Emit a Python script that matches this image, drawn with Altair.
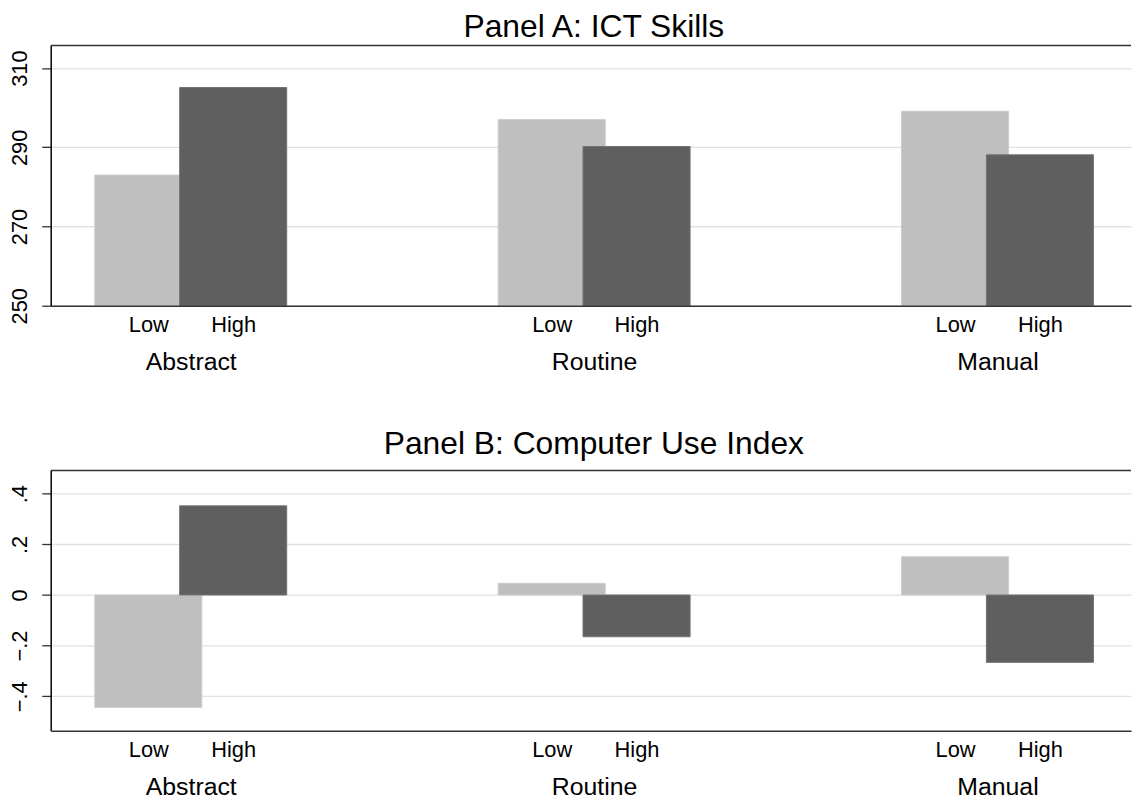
import altair as alt
import pandas as pd

# ---- data ----
categories = ["Abstract", "Routine", "Manual"]
groups = ["Low", "High"]
ict_low = [283.0, 297.0, 299.1]
ict_high = [305.1, 290.2, 288.1]
cui_low = [-0.444, 0.046, 0.151]
cui_high = [0.352, -0.165, -0.266]
ict_ticks = [250, 270, 290, 310]
cui_ticks = [-0.4, -0.2, 0.0, 0.2, 0.4]

# ---- styling / layout ----
colors = ["#bfbfbf", "#5f5f5f"]
edge_colors = ["#cccccc", "#727272"]
FONT = "Liberation Sans"
OFF = 0.1052      # offset of Low/High bar centres from the group centre (group units)
HW = 0.1327       # half bar width (group units)
XDOM = [-0.3472, 2.3310]
W = 1088
H = 262


def frame(low, high):
    rows = []
    for g, vals in zip(groups, [low, high]):
        for i, (c, v) in enumerate(zip(categories, vals)):
            rows.append({"category": c, "idx": i, "group": g, "value": v})
    return pd.DataFrame(rows)


cat_df = pd.DataFrame({"category": categories, "idx": list(range(len(categories)))})
lh_ticks = sorted([i + s * OFF for i in range(len(categories)) for s in (-1, 1)])
cat_expr = "[" + ",".join(f"'{c}'" for c in categories) + "][round(datum.value)]"
lh_expr = f"datum.value < round(datum.value) ? '{groups[0]}' : '{groups[1]}'"


def panel(df, title, ydom, ybase, yticks, ylabel_expr, title_offset):
    xs = alt.Scale(domain=XDOM, nice=False, zero=False)
    yaxis_kw = dict(
        values=yticks, title=None, grid=True, gridColor="#e1e1e1", gridWidth=1.3,
        domain=True, domainColor="black", domainWidth=1.5,
        ticks=True, tickSize=9, tickColor="#333333", tickWidth=1.3,
        labelAngle=270, labelAlign="center", labelBaseline="alphabetic",
        labelFontSize=22, labelFont=FONT, labelColor="black", labelPadding=15.4,
        labelFlush=False, labelOverlap=False, zindex=0,
    )
    if ylabel_expr:
        yaxis_kw["labelExpr"] = ylabel_expr
    else:
        yaxis_kw["format"] = "d"

    base = alt.Chart(df).transform_calculate(
        center=f"datum.idx + (datum.group == '{groups[0]}' ? -{OFF} : {OFF})"
    ).transform_calculate(
        x0=f"datum.center - {HW}", x1=f"datum.center + {HW}"
    )
    bars = base.mark_rect(strokeWidth=1).encode(
        x=alt.X("x0:Q", scale=xs, axis=alt.Axis(
            values=lh_ticks, labelExpr=lh_expr, ticks=False, tickSize=0, grid=False,
            domain=True, domainColor="#333333", domainWidth=1.5,
            labelFontSize=22, labelPadding=9, labelFont=FONT, labelColor="black",
            title=None, orient="bottom", labelFlush=False, labelOverlap=False, zindex=1)),
        x2="x1:Q",
        y=alt.Y("value:Q", scale=alt.Scale(domain=ydom, nice=False, zero=False),
                axis=alt.Axis(**yaxis_kw)),
        y2=alt.datum(ybase),
        color=alt.Color("group:N", scale=alt.Scale(domain=groups, range=colors), legend=None),
        stroke=alt.Stroke("group:N", scale=alt.Scale(domain=groups, range=edge_colors),
                          legend=None),
    )
    cats = alt.Chart(cat_df).mark_point(opacity=0).encode(
        x=alt.X("idx:Q", scale=xs, axis=alt.Axis(
            values=list(range(len(categories))), labelExpr=cat_expr, ticks=False, tickSize=0,
            grid=False, domain=False, labelFontSize=25, labelPadding=44, labelFont=FONT,
            labelColor="black", title=None, orient="bottom", labelFlush=False,
            labelOverlap=False)),
    )
    top = alt.Chart(pd.DataFrame({"k": [0]})).mark_rule(
        color="#333333", strokeWidth=1.5
    ).encode(y=alt.value(0))

    return alt.layer(bars, cats, top).resolve_scale(x="independent").properties(
        width=W, height=H,
        title=alt.TitleParams(
            title, fontSize=32, font=FONT, fontWeight="normal", color="black",
            anchor="middle", frame="group", baseline="alphabetic",
            offset=title_offset, dx=3),
    )


cui_expr = ("datum.value == 0 ? '0' : (datum.value < 0 ? '\u2212' : '') + "
            "replace(format(abs(datum.value), '.1f'), '0.', '.')")

pA = panel(frame(ict_low, ict_high), "Panel A: ICT Skills", [250, 315.7], 250,
           ict_ticks, None, -24.6)
pB = panel(frame(cui_low, cui_high), "Panel B: Computer Use Index", [-0.536, 0.4916], 0,
           cui_ticks, cui_expr, -16.4)

chart = alt.vconcat(pA, pB, spacing=54).configure_view(strokeWidth=0).properties(
    padding=0, background="white")

chart.save("out.html", embed_options={"renderer": "svg", "actions": False})
